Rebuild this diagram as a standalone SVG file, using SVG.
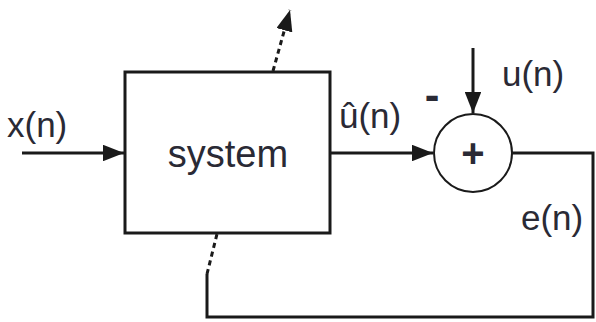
<svg xmlns="http://www.w3.org/2000/svg" width="596" height="322" viewBox="0 0 596 322">
<style>
.ln{fill:none;stroke:#1a1a1a;stroke-width:3}
.ds{fill:none;stroke:#1a1a1a;stroke-width:3;stroke-dasharray:5 4}
.t{font-family:"Liberation Sans",Arial,sans-serif;font-size:35px;fill:#2a2a35}
</style>
<defs>
<marker id="ah" viewBox="0 0 10 10" refX="10" refY="5" markerWidth="7" markerHeight="5.5" orient="auto" markerUnits="strokeWidth" preserveAspectRatio="none">
<path d="M0,0 L10,5 L0,10 z" fill="#1a1a1a"/>
</marker>
</defs>
<rect width="596" height="322" fill="#fff"/>
<g id="system">
<rect x="125" y="72" width="205" height="161" class="ln"/>
<text x="228" y="167" class="t" text-anchor="middle" style="font-size:38px">system</text>
</g>
<g id="sum">
<circle cx="473" cy="153" r="39" class="ln" style="stroke-width:2"/>
<text x="473" y="167" class="t" text-anchor="middle" style="font-weight:bold;font-size:40px">+</text>
</g>
<g id="connectors">
<line x1="22" y1="153" x2="124" y2="153" class="ln" marker-end="url(#ah)"/>
<line x1="330" y1="153" x2="433" y2="153" class="ln" marker-end="url(#ah)"/>
<line x1="473" y1="48" x2="473" y2="113" class="ln" marker-end="url(#ah)"/>
<polyline points="512,153 593,153 593,317 207,317 207,274" class="ln"/>
<line x1="207" y1="274" x2="217" y2="234" class="ds"/>
<line x1="273" y1="71" x2="290" y2="10" class="ds" marker-end="url(#ah)"/>
</g>
<g id="labels">
<text x="7" y="137" class="t">x(n)</text>
<text x="339" y="128" class="t">û(n)</text>
<text x="502" y="86" class="t">u(n)</text>
<text x="521" y="230" class="t">e(n)</text>
<text x="432" y="110" class="t" text-anchor="middle" style="font-weight:bold;font-size:44px">-</text>
</g>
</svg>
